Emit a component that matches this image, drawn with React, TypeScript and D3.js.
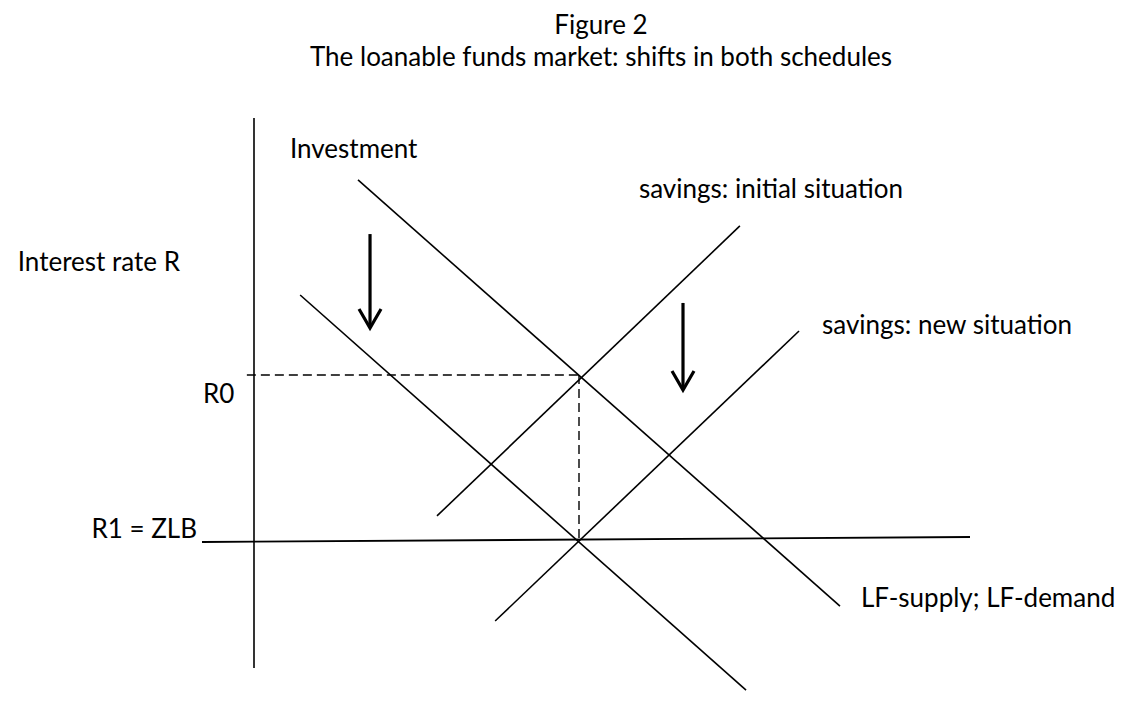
import * as d3 from "d3";
import { useEffect, useRef } from "react";

// Chart in abstract units: quantity (x) and interest rate (y).
// R1 = ZLB sits at rate 0, R0 at rate 1; the old equilibrium quantity is 1.
const titleLines = [
  "Figure 2",
  "The loanable funds market: shifts in both schedules",
];

const schedules = [
  { name: "investment", x: [0.32, 1.803], y: [2.175, -0.392] },
  { name: "lfDemand", x: [0.142, 1.514], y: [1.482, -0.898] },
  { name: "savingsInitial", x: [0.563, 1.495], y: [0.151, 1.898] },
  { name: "savingsNew", x: [0.742, 1.677], y: [-0.482, 1.265] },
];

const rateAxis = { x: [0, 0], y: [2.548, -0.765] };
const zlbLine = { x: [-0.16, 2.203], y: [-0.006, 0.024] };

const r0 = 1;
const r1 = 0;
const q0 = 1;

const shiftArrows = [
  { x: 0.357, from: 1.849, to: 1.283 },
  { x: 1.32, from: 1.434, to: 0.91 },
];

const labels = [
  { text: "Investment", x: 290, y: 158, anchor: "start" },
  { text: "Interest rate R", x: 180, y: 271, anchor: "end" },
  { text: "R0", x: 203, y: 403, anchor: "start" },
  { text: "R1 = ZLB", x: 197, y: 538, anchor: "end" },
  { text: "savings: initial situation", x: 903, y: 198, anchor: "end" },
  { text: "savings: new situation", x: 822, y: 334, anchor: "start" },
  { text: "LF-supply; LF-demand", x: 861, y: 607, anchor: "start" },
];

export default function App() {
  const svgRef = useRef<SVGSVGElement | null>(null);

  const width = 1123;
  const height = 717;

  useEffect(() => {
    const svg = d3.select(svgRef.current);
    svg.selectAll("*").remove();

    const font = "Lato, 'Open Sans', sans-serif";
    const fontSize = 26;

    // Scales: quantity -> px, rate -> px
    const xScale = d3.scaleLinear().domain([0, 1]).range([254, 579]);
    const yScale = d3.scaleLinear().domain([0, 1]).range([541, 375]);

    const segment = d3
      .line<[number, number]>()
      .x((d) => xScale(d[0]))
      .y((d) => yScale(d[1]));

    const drawSeg = (xs: number[], ys: number[], w = 1.6, dash?: string) => {
      const pts = xs.map((x, i) => [x, ys[i]] as [number, number]);
      const path = svg
        .append("path")
        .attr("d", segment(pts))
        .attr("fill", "none")
        .attr("stroke", "#000")
        .attr("stroke-width", w);
      if (dash) path.attr("stroke-dasharray", dash);
    };

    // Titles
    svg
      .selectAll("text.title")
      .data(titleLines)
      .enter()
      .append("text")
      .attr("class", "title")
      .attr("x", 601)
      .attr("y", (d, i) => (i === 0 ? 34 : 66))
      .attr("text-anchor", "middle")
      .attr("font-family", font)
      .attr("font-size", fontSize)
      .attr("fill", "#000")
      .text((d) => d);

    // Axis and ZLB
    drawSeg(rateAxis.x, rateAxis.y, 1.6);
    drawSeg(zlbLine.x, zlbLine.y, 1.8);

    // Dashed guides to old equilibrium
    drawSeg([-0.022, q0], [r0, r0], 1.4, "9,5");
    drawSeg([q0, q0], [r0, r1], 1.4, "9,5");

    // Supply and demand schedules
    schedules.forEach((s) => drawSeg(s.x, s.y, 1.6));

    // Shift arrows
    shiftArrows.forEach((a) => {
      const x = xScale(a.x);
      const y0 = yScale(a.from);
      const y1 = yScale(a.to);
      svg
        .append("line")
        .attr("x1", x)
        .attr("x2", x)
        .attr("y1", y0)
        .attr("y2", y1 - 2)
        .attr("stroke", "#000")
        .attr("stroke-width", 3.2);
      svg
        .append("path")
        .attr("d", `M${x - 11},${y1 - 19} L${x},${y1} L${x + 11},${y1 - 19}`)
        .attr("fill", "none")
        .attr("stroke", "#000")
        .attr("stroke-width", 3.2)
        .attr("stroke-linejoin", "miter");
    });

    // Labels
    svg
      .selectAll("text.label")
      .data(labels)
      .enter()
      .append("text")
      .attr("class", "label")
      .attr("x", (d) => d.x)
      .attr("y", (d) => d.y)
      .attr("text-anchor", (d) => d.anchor)
      .attr("font-family", font)
      .attr("font-size", fontSize)
      .attr("fill", "#000")
      .text((d) => d.text);
  }, []);

  return (
    <svg
      ref={svgRef}
      width={width}
      height={height}
      style={{ position: "absolute", left: 0, top: 0, background: "#fff" }}
    ></svg>
  );
}
